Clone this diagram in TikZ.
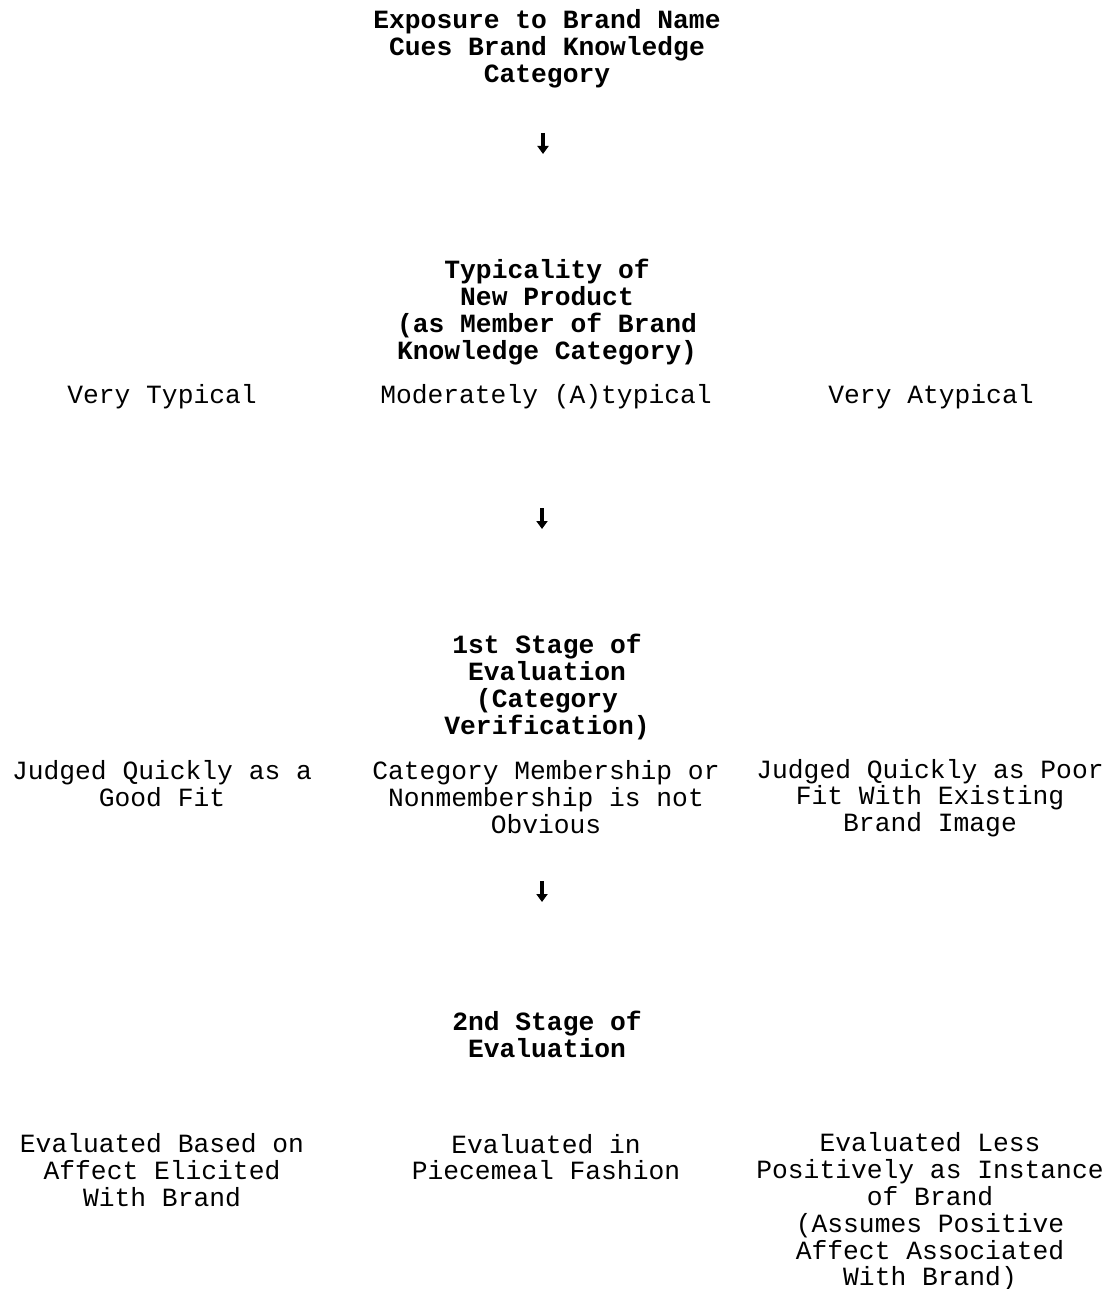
\documentclass[tikz,border=0pt]{standalone}
\usepackage{fontspec}
\setmonofont{Liberation Mono}
\usetikzlibrary{arrows.meta}
\begin{document}
\begin{tikzpicture}[x=1pt,y=-1pt,
  txt/.style={font=\ttfamily\fontsize{26.3}{26.8}\selectfont, align=center, inner sep=0pt},
  hdr/.style={txt, font=\ttfamily\bfseries\fontsize{26.3}{26.8}\selectfont},
  dnarrow/.style={line width=3.2pt, -{Triangle[length=8pt,width=11pt]}}]
\useasboundingbox[fill=white] (0,0) rectangle (1117,1289);
\node[hdr] (expo) at (547,49) {Exposure to Brand Name\\Cues Brand Knowledge\\Category};
\coordinate (a1s) at (543,133);
\coordinate (a1e) at (543,154);
\draw[dnarrow] (a1s) -- (a1e);
\node[hdr] (typ) at (547,312) {Typicality of\\New Product\\(as Member of Brand\\Knowledge Category)};
\node[txt] (vt) at (162,397) {Very Typical};
\node[txt] (mod) at (546,397) {Moderately (A)typical};
\node[txt] (va) at (931,397) {Very Atypical};
\coordinate (a2s) at (542,508);
\coordinate (a2e) at (542,529);
\draw[dnarrow] (a2s) -- (a2e);
\node[hdr] (st1) at (547,687) {1st Stage of\\Evaluation\\(Category\\Verification)};
\node[txt] (good) at (162,784) {Judged Quickly as a\\Good Fit};
\node[txt] (cat) at (546,797) {Category Membership or\\Nonmembership is not\\Obvious};
\node[txt] (poor) at (930,798) {Judged Quickly as Poor\\Fit With Existing\\Brand Image};
\coordinate (a3s) at (542,881);
\coordinate (a3e) at (542,902);
\draw[dnarrow] (a3s) -- (a3e);
\node[hdr] (st2) at (547,1034) {2nd Stage of\\Evaluation};
\node[txt] (aff) at (162,1170) {Evaluated Based on\\Affect Elicited\\With Brand};
\node[txt] (piece) at (546,1157) {Evaluated in\\Piecemeal Fashion};
\node[txt] (less) at (930,1212) {Evaluated Less\\Positively as Instance\\of Brand\\(Assumes Positive\\Affect Associated\\With Brand)};
\end{tikzpicture}
\end{document}
